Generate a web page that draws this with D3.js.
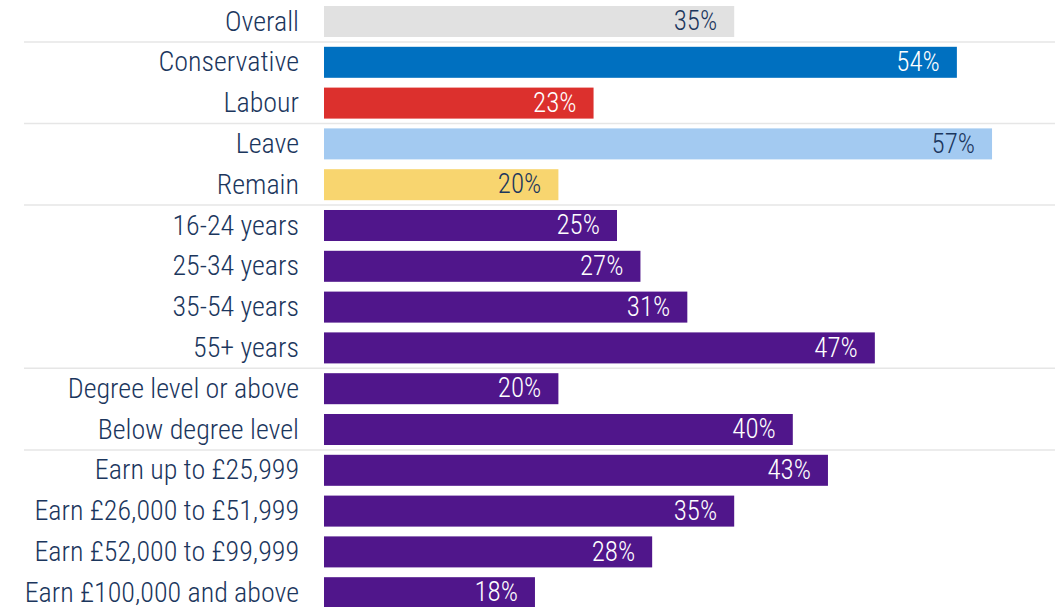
<!DOCTYPE html>
<html>
<head>
<meta charset="utf-8">
<script src="https://cdn.jsdelivr.net/npm/d3@7"></script>
<style>
  body { margin: 0; background: #fff; }
  text { font-family: "Liberation Sans Narrow", "Roboto Condensed", "DejaVu Sans Condensed", sans-serif; font-weight: 300; }
</style>
</head>
<body>
<div id="chart"></div>
<script>
var width  = 1058;
var height = 607;

var categories = ["Overall", "Conservative", "Labour", "Leave", "Remain",
  "16-24 years", "25-34 years", "35-54 years", "55+ years",
  "Degree level or above", "Below degree level",
  "Earn up to £25,999", "Earn £26,000 to £51,999", "Earn £52,000 to £99,999", "Earn £100,000 and above"];
var values = [35, 54, 23, 57, 20, 25, 27, 31, 47, 20, 40, 43, 35, 28, 18];
var barColors = ["#e1e1e1", "#0070c0", "#dc302d", "#a3caf1", "#f8d56f",
  "#50168b", "#50168b", "#50168b", "#50168b", "#50168b", "#50168b",
  "#50168b", "#50168b", "#50168b", "#50168b"];
var darkLabel = ["Overall", "Leave", "Remain"];
// groups end after these rows
var groupEnds = ["Overall", "Labour", "Remain", "55+ years", "Below degree level"];

var svg = d3.select("#chart").append("svg")
  .attr("width", width)
  .attr("height", height);

var x = d3.scaleLinear().domain([0, 100]).range([324, 324 + 1172]);
var y = d3.scaleBand().domain(categories)
  .range([1.1, 1.1 + 612])
  .paddingInner(0.24)
  .paddingOuter(0.12);

// separator lines
svg.selectAll(".sep")
  .data(groupEnds)
  .enter().append("line")
  .attr("class", "sep")
  .attr("x1", 24).attr("x2", 1055)
  .attr("y1", function(d) { return y(d) + y.bandwidth() + y.step() * 0.12; })
  .attr("y2", function(d) { return y(d) + y.bandwidth() + y.step() * 0.12; })
  .style("stroke", "#e6e6e6")
  .style("stroke-width", 1.5);

svg.selectAll(".bar")
  .data(categories)
  .enter().append("rect")
  .attr("class", "bar")
  .attr("x", x(0))
  .attr("y", function(d) { return y(d); })
  .attr("width", function(d, i) { return x(values[i]) - x(0); })
  .attr("height", y.bandwidth())
  .style("fill", function(d, i) { return barColors[i]; });

svg.selectAll(".cat")
  .data(categories)
  .enter().append("text")
  .attr("class", "cat")
  .attr("x", 299)
  .attr("y", function(d) { return y(d) + y.bandwidth() / 2 - 1; })
  .attr("dy", "0.36em")
  .attr("text-anchor", "end")
  .style("font-size", "28px")
  .style("fill", "#1b365d")
  .text(function(d) { return d; });

svg.selectAll(".val")
  .data(categories)
  .enter().append("text")
  .attr("class", "val")
  .attr("x", function(d, i) { return x(values[i]) - 17; })
  .attr("y", function(d) { return y(d) + y.bandwidth() / 2 - 1; })
  .attr("dy", "0.36em")
  .attr("text-anchor", "end")
  .style("font-size", "27px")
  .style("fill", function(d) { return darkLabel.indexOf(d) >= 0 ? "#1b365d" : "#ffffff"; })
  .text(function(d, i) { return values[i] + "%"; });
</script>
</body>
</html>
